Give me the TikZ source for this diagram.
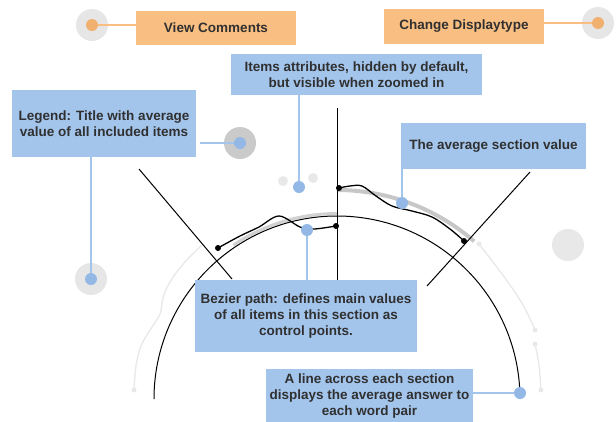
\documentclass[tikz,border=0pt]{standalone}
\usepackage{fontspec}
\setmainfont{Liberation Sans}
\definecolor{orangec}{HTML}{F8BE82}
\definecolor{odot}{HTML}{F0B070}
\definecolor{bluec}{HTML}{A3C5EC}
\definecolor{bdot}{HTML}{94B8E6}
\definecolor{halo}{HTML}{E6E6E6}
\definecolor{halomid}{HTML}{CACACA}
\definecolor{textc}{HTML}{303030}
\definecolor{faint}{HTML}{E8E8E8}
\begin{document}
\begin{tikzpicture}[x=1pt,y=-1pt,
  every node/.style={font=\bfseries\fontsize{13.5}{16}\selectfont, text=textc, align=center, inner sep=0pt},
  obox/.style={fill=orangec},
  bbox/.style={fill=bluec},
  bline/.style={draw=bluec, line width=1.5pt},
  oline/.style={draw=orangec, line width=1.5pt},
  bdotn/.style={circle, fill=bdot, minimum size=12pt},
  odotn/.style={circle, fill=odot, minimum size=12pt},
  halon/.style={circle, fill=halo, minimum size=32pt},
  halomidn/.style={circle, fill=halomid, minimum size=32pt},
  fdot/.style={circle, fill=faint, minimum size=#1},
  mainline/.style={draw=black, line width=1pt},
  bez/.style={draw=black, line width=1.3pt},
  enddot/.style={circle, fill=black, minimum size=6pt},
  avg/.style={draw=black!22, line width=4pt},
  faintline/.style={draw=faint, line width=1.3pt}
]
\useasboundingbox (0,0) rectangle (616,421);

% faint decorations
\node[fdot=10pt] (f1) at (283,181) {};
\node[fdot=10pt] (f2) at (313,178) {};
\node[fdot=32pt] (f3) at (568,245) {};
\node[fdot=5pt] (f4) at (479,244) {};
\node[fdot=5pt] (f5) at (535,330) {};
\node[fdot=5pt] (f6) at (535,344) {};
\node[fdot=5pt] (f7) at (541,390) {};
\node[fdot=5pt] (f8) at (134,390) {};
\draw[faintline] plot[smooth, tension=0.6] coordinates {(479,244) (505,278) (523,305) (535,330)};
\draw[faintline] plot[smooth, tension=0.6] coordinates {(535,344) (539,365) (541,390)};
\draw[faintline] plot[smooth, tension=0.6] coordinates {(202,245) (184,263) (170,282) (163,298) (160,314) (150,330) (141,346) (136,366) (134,390)};

% average arcs (gray)
\draw[draw=black!18, line width=3pt] (337,399) ++(236:185.5) arc[start angle=236, end angle=270, radius=185.5];
\draw[avg] (337,399) ++(270:209) arc[start angle=270, end angle=311, radius=209];

% main arc and section lines
\draw[mainline] (154,399) arc[start angle=180, end angle=358, radius=183];
\draw[mainline] (337,108) -- (337,280);
\draw[mainline] (139,169) -- (232,279);
\draw[mainline] (530,172) -- (427,286);

% bezier paths
\draw[bez] plot[smooth, tension=0.55] coordinates {(218,248) (240,236) (259,227) (279,216) (300,227) (314,229) (336,226)};
\draw[bez] plot[smooth, tension=0.55] coordinates {(339,188) (350,186) (362,186) (376,196) (392,206) (412,211) (432,217) (450,229) (464,241)};
\node[enddot] (e1) at (218,248) {};
\node[enddot] (e2) at (336,226) {};
\node[enddot] (e3) at (339,188) {};
\node[enddot] (e4) at (464,241) {};

% orange items
\node[halon] (h1) at (92,25) {};
\node[odotn] (o1) at (92,25) {};
\node[obox, minimum width=160pt, minimum height=34pt] (vc) at (216,28) {View Comments};
\draw[oline] (o1) -- (vc.west |- o1);
\node[halon] (h2) at (598,23) {};
\node[odotn] (o2) at (598,23) {};
\node[obox, minimum width=160pt, minimum height=35pt] (cd) at (464,26.5) {Change Displaytype};
\draw[oline] (cd.east |- o2) -- (o2);

% legend
\node[bbox, minimum width=184pt, minimum height=67pt] (lg) at (104,123.5) {Legend: Title with average\\value of all included items};
\node[halomidn] (h3) at (240,143) {};
\node[bdotn] (d3) at (240,143) {};
\draw[bline] (200,143) -- (d3);
\node[halon] (h4) at (91,279) {};
\node[bdotn] (d4) at (91,279) {};
\draw[bline] (lg.south -| d4) -- (d4);

% items attributes
\node[bbox, minimum width=251pt, minimum height=41pt] (ia) at (356.5,74.5) {Items attributes, hidden by default,\\but visible when zoomed in};
\node[bdotn] (d5) at (299,187) {};
\draw[bline] (ia.south -| d5) -- (d5);

% average section value
\node[bbox, minimum width=185pt, minimum height=46pt] (av) at (493.5,146) {The average section value};
\node[bdotn] (d6) at (402,203) {};
\draw[bline] (402,152) -- (d6);

% bezier path box
\node[bbox, minimum width=222pt, minimum height=72pt] (bz) at (306,316) {Bezier path: defines main values\\of all items in this section as\\control points.};
\node[bdotn] (d7) at (307,230) {};
\draw[bline] (bz.north -| d7) -- (d7);
\draw[mainline] (337,226) -- (bz.north -| 337,0);

% line across box
\node[bbox, minimum width=207pt, minimum height=54pt] (la) at (369.5,396) {A line across each section\\displays the average answer to\\each word pair};
\node[bdotn] (d8) at (520,393) {};
\draw[bline] (la.east |- d8) -- (d8);
\end{tikzpicture}
\end{document}
